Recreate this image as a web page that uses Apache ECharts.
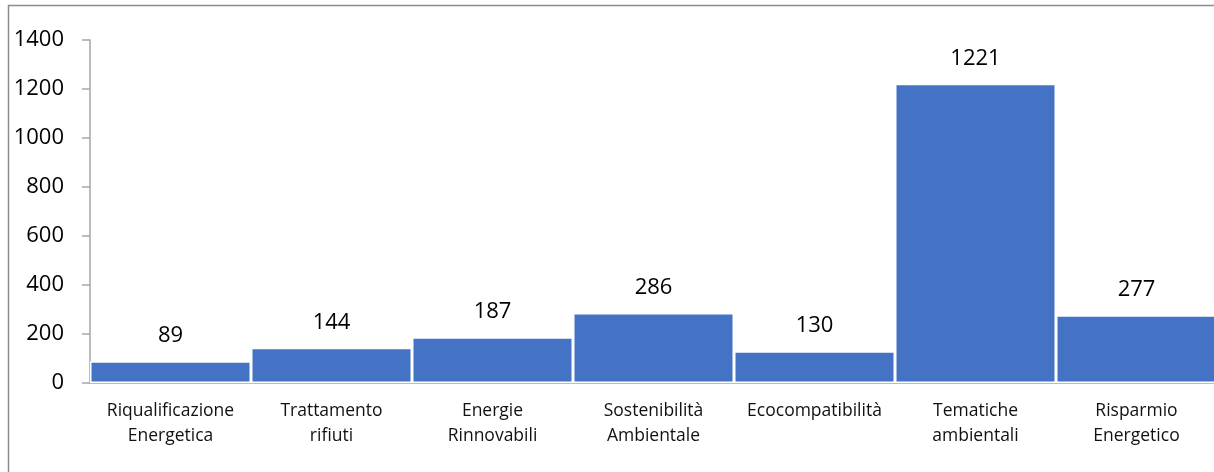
<!DOCTYPE html>
<html>
<head>
<meta charset="utf-8">
<script src="https://cdn.jsdelivr.net/npm/echarts@6/dist/echarts.min.js"></script>
<style>
  html, body { margin: 0; padding: 0; background: #fff; }
  #chart { width: 1214px; height: 472px; }
</style>
</head>
<body>
<div id="chart"></div>
<script>
  // dati
  var categories = ['Riqualificazione\nEnergetica', 'Trattamento\nrifiuti', 'Energie\nRinnovabili', 'Sostenibilità\nAmbientale', 'Ecocompatibilità', 'Tematiche\nambientali', 'Risparmio\nEnergetico']
  var values = [89, 144, 187, 286, 130, 1221, 277]
  var yMin = 0
  var yMax = 1400
  var yStep = 200

  var chart = echarts.init(document.getElementById('chart'))
  var option = {
    animation: false,
    textStyle: { fontFamily: 'Open Sans, Liberation Sans, sans-serif' },
    grid: { left: 90, width: 1127, top: 40, bottom: 89, outerBoundsMode: 'none' },
    graphic: [{
      type: 'rect',
      shape: { x: 8.5, y: 5.5, width: 1300, height: 600 },
      style: { fill: 'none', stroke: '#8c8c8c', lineWidth: 1.5 },
      silent: true
    }],
    xAxis: {
      type: 'category',
      data: categories,
      axisLine: { show: true, lineStyle: { color: '#a6a6a6', width: 1.5 } },
      axisTick: { show: false },
      axisLabel: { color: '#111', fontSize: 17.5, lineHeight: 25, margin: 16, interval: 0 }
    },
    yAxis: {
      type: 'value',
      min: yMin,
      max: yMax,
      interval: yStep,
      splitLine: { show: false },
      axisLine: { show: true, lineStyle: { color: '#a6a6a6', width: 1.5 } },
      axisTick: { show: true, length: 8, lineStyle: { color: '#a6a6a6', width: 1.5 } },
      axisLabel: { color: '#000', fontSize: 22, margin: 26, formatter: function (v) { return String(v) } }
    },
    series: [{
      type: 'bar',
      data: values,
      barCategoryGap: 0,
      itemStyle: { color: '#4472c4', borderColor: '#fff', borderWidth: 1.5 },
      label: { show: true, position: 'top', distance: 14, color: '#000', fontSize: 22 }
    }]
  }
  chart.setOption(option)
</script>
</body>
</html>
